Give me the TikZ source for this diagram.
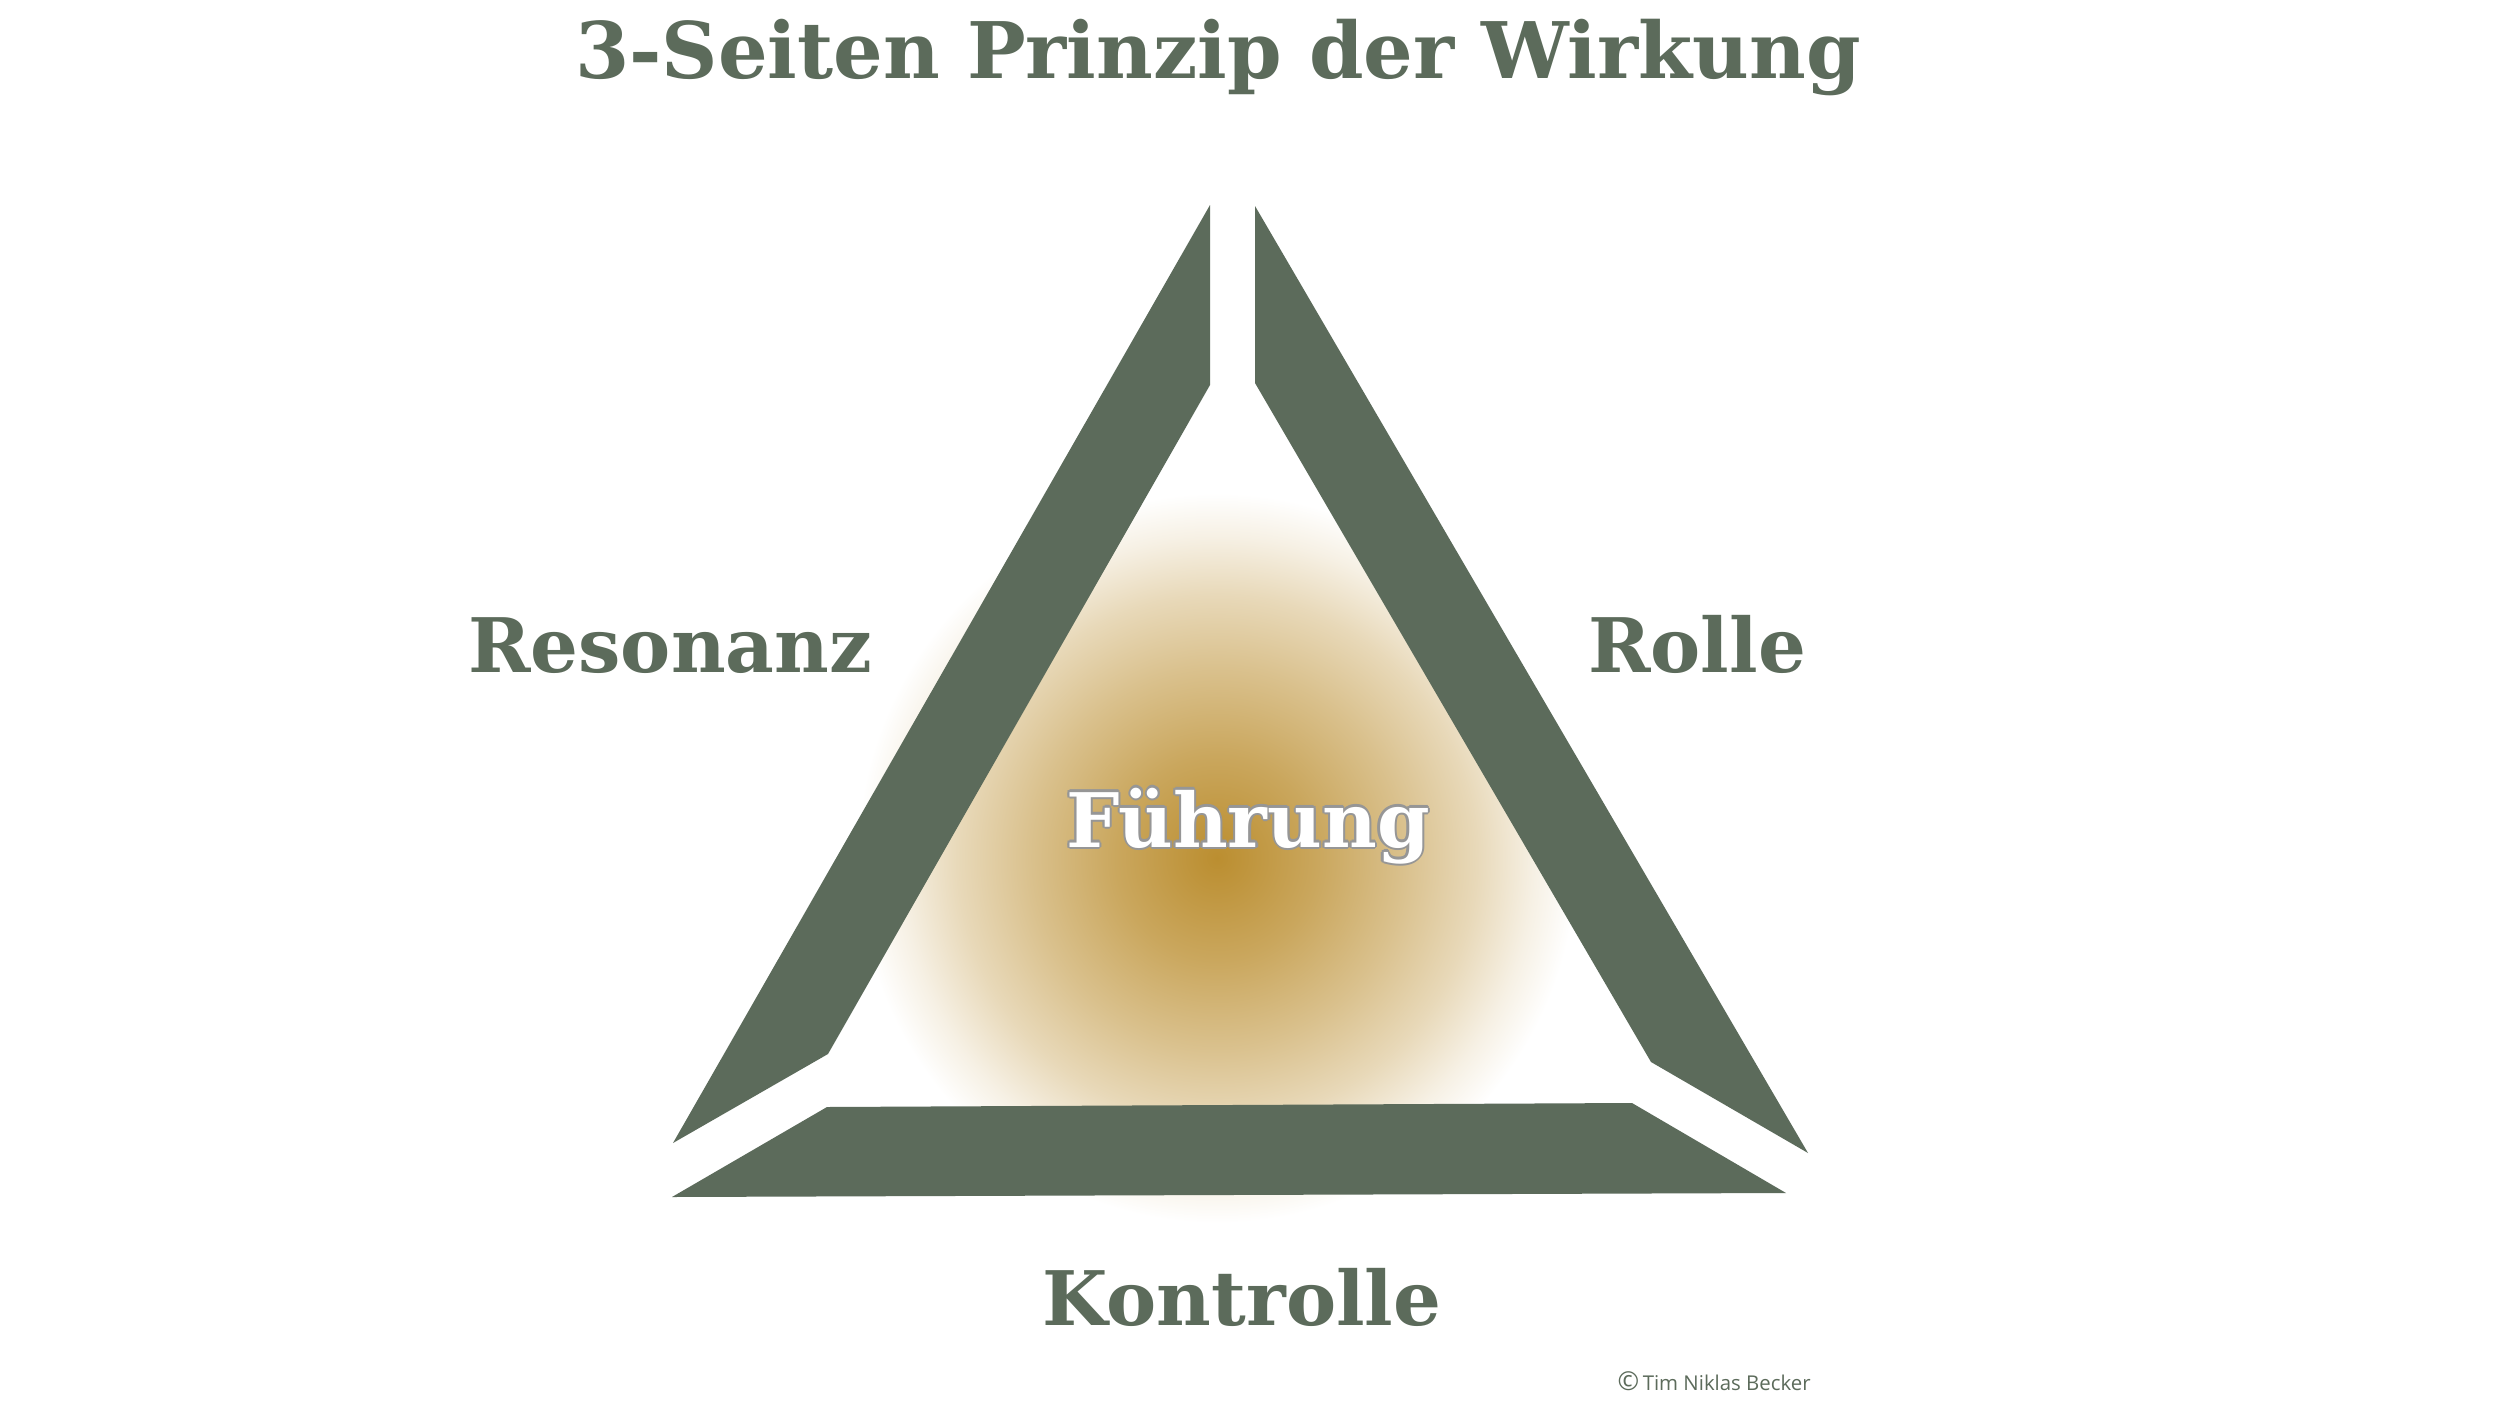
\documentclass[tikz,border=0pt]{standalone}
\usepackage{fontspec}
\setmainfont{DejaVu Serif}
\newfontfamily\creditfont{Open Sans}
\definecolor{sage}{RGB}{92,107,91}
\definecolor{gold}{RGB}{187,142,48}
\definecolor{outl}{RGB}{150,150,150}
\pgfdeclareradialshading{glow}{\pgfpoint{0bp}{0bp}}{%
  color(0bp)=(gold);
  color(2bp)=(gold!94!white);
  color(7bp)=(gold!78!white);
  color(13bp)=(gold!55!white);
  color(18bp)=(gold!34!white);
  color(22bp)=(gold!13!white);
  color(25bp)=(white);
  color(50bp)=(white)}
\tikzset{
  bar/.style={fill=sage, draw=none},
  lbl/.style={inner sep=0pt, anchor=base, text=sage,
    font=\fontsize{21.4pt}{24pt}\selectfont\bfseries},
  ttl/.style={inner sep=0pt, anchor=base, text=sage,
    font=\fontsize{22.2pt}{26pt}\selectfont\bfseries},
  center lbl/.style={inner sep=0pt, anchor=base,
    font=\fontsize{21.4pt}{24pt}\selectfont\bfseries},
  credit/.style={inner sep=0pt, anchor=base west, text=sage,
    font=\fontsize{5.8pt}{7pt}\selectfont\creditfont}
}
\begin{document}
\begin{tikzpicture}[x=0.01cm, y=-0.01cm]
\useasboundingbox[fill=white] (0,0) rectangle (2500,1406);
% glow
\shade[shading=glow] (1217,858) ellipse [x radius=360, y radius=365];
% bars
\draw[bar] (1210,205) -- (1210,385) -- (828,1054) -- (673,1143) -- cycle;
\draw[bar] (1255,206) -- (1255,383) -- (1651,1062) -- (1808,1153) -- cycle;
\draw[bar] (672,1197) -- (827,1107) -- (1632,1103) -- (1786,1193) -- cycle;
% texts
\node[ttl] (title) at (1218,78) {3-Seiten Prinzip der Wirkung};
\node[lbl] (res) at (670,672) {Resonanz};
\node[lbl] (rol) at (1697,672) {Rolle};
\node[lbl] (kon) at (1242,1325) {Kontrolle};
\foreach \dx/\dy in {0.6/0,-0.6/0,0/0.6,0/-0.6,0.42/0.42,-0.42/0.42,0.42/-0.42,-0.42/-0.42}{
  \node[center lbl, text=outl, xshift=\dx pt, yshift=\dy pt] at (1248,847) {Führung};
}
\node[center lbl, text=white] (fuehr) at (1248,847) {Führung};
\node[credit] (cred) at (1617,1390) {{\fontsize{7.4pt}{8pt}\selectfont ©}\,Tim Niklas Becker};
\end{tikzpicture}
\end{document}
